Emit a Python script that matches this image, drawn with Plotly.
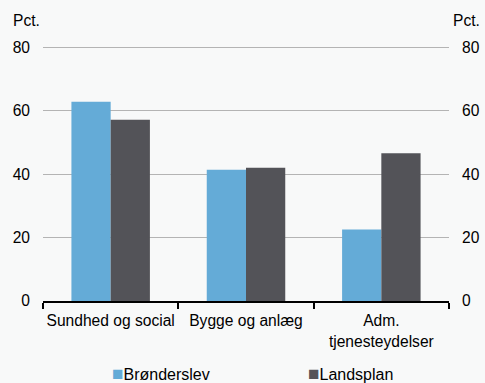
import plotly.graph_objects as go

categories = ["Sundhed og social", "Bygge og anlæg", "Adm.<br>tjenesteydelser"]
broenderslev = [62.8, 41.4, 22.5]
landsplan = [57.1, 42.0, 46.6]
tick_vals = [0, 20, 40, 60, 80]
series_names = ["Brønderslev", "Landsplan"]
series_colors = ["#64abd7", "#535358"]

font = dict(family="Arial, Liberation Sans, sans-serif", size=15.6, color="#000000")
legend_font = dict(family="Arial, Liberation Sans, sans-serif", size=16, color="#000000")

W, H = 485, 383
L, R, T, B = 43, 36, 44, 82
pw = W - L - R
ph = H - T - B


def px_x(x):
    return (x - L) / pw


def px_y(y):
    return (H - B - y) / ph


fig = go.Figure()
for name, vals, col in zip(series_names, [broenderslev, landsplan], series_colors):
    fig.add_trace(go.Bar(x=categories, y=vals, name=name,
                         marker=dict(color=col, line=dict(width=0)), showlegend=False))
fig.add_trace(go.Scatter(x=categories, y=broenderslev, yaxis="y2", mode="markers",
                         marker=dict(opacity=0), showlegend=False, hoverinfo="skip"))

legend_ann = []
for name, col, xpos in zip(series_names, series_colors, [110, 306]):
    legend_ann.append(dict(
        text=f"<span style='color:{col};font-size:19px'>■</span>{name}",
        xref="paper", yref="paper", x=px_x(xpos), y=px_y(374),
        xanchor="left", yanchor="middle", showarrow=False, font=legend_font))

fig.update_layout(
    width=W, height=H,
    paper_bgcolor="#f8f9f9", plot_bgcolor="#f8f9f9",
    font=font, showlegend=False,
    margin=dict(l=L, r=R, t=T, b=B, autoexpand=False),
    barmode="group", bargap=0.42, bargroupgap=0,
    xaxis=dict(showline=True, linecolor="#000000", linewidth=1.5,
               ticks="outside", tickson="boundaries", ticklen=6, tickcolor="#000000",
               tickwidth=1.5, showgrid=False, tickfont=font, ticklabelstandoff=5,
               tickangle=0),
    yaxis=dict(range=[0, 81], tickvals=tick_vals, showgrid=True, gridcolor="#b4b4b4",
               gridwidth=1, zeroline=False, showline=False, ticks="", tickfont=font,
               ticklabelstandoff=12),
    yaxis2=dict(range=[0, 81], tickvals=tick_vals, overlaying="y", side="right",
                showgrid=False, zeroline=False, showline=False, ticks="", tickfont=font,
                ticklabelstandoff=12),
    annotations=[
        dict(text="Pct.", xref="paper", yref="paper", x=px_x(11), y=px_y(20),
             xanchor="left", yanchor="middle", showarrow=False, font=font),
        dict(text="Pct.", xref="paper", yref="paper", x=px_x(482), y=px_y(20),
             xanchor="right", yanchor="middle", showarrow=False, font=font),
    ] + legend_ann,
)

fig.write_html("out.html", config={"displayModeBar": False},
               post_script="document.body.style.margin='0';document.body.style.padding='0';")
